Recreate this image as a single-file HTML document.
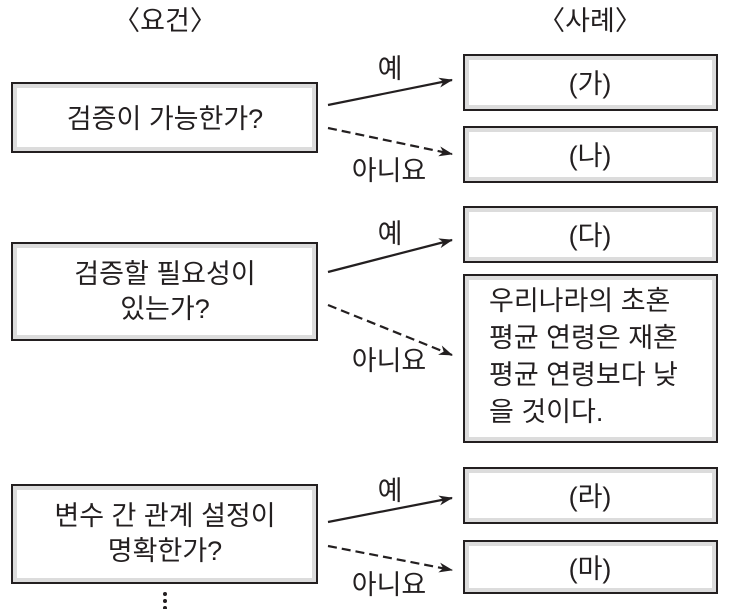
<!DOCTYPE html>
<html><head><meta charset="utf-8"><style>
html,body{margin:0;padding:0;background:#fff;}
svg{display:block;font-family:"Liberation Sans","Noto Sans CJK KR",sans-serif;}
text{fill:#231f20;font-size:27px;}
</style></head><body>
<svg width="732" height="609" viewBox="0 0 732 609" xmlns="http://www.w3.org/2000/svg">
<defs>
<marker id="ah" markerWidth="14" markerHeight="10" refX="13" refY="5" orient="auto" markerUnits="userSpaceOnUse">
<path d="M0,0 L14,5 L0,10 L4,5 Z" fill="#231f20"/></marker>
</defs>
<g fill="#fff" stroke="#231f20" stroke-width="2">
<rect x="12" y="83" width="305" height="69"/>
<rect x="12" y="243" width="305" height="97"/>
<rect x="12" y="485" width="305" height="98"/>
<rect x="464" y="55" width="253" height="55"/>
<rect x="464" y="127" width="253" height="55"/>
<rect x="464" y="207" width="253" height="55"/>
<rect x="464" y="275" width="253" height="167"/>
<rect x="464" y="468" width="253" height="55"/>
<rect x="464" y="541" width="253" height="52"/>
</g>
<g fill="none" stroke="#dcdcdc" stroke-width="4">
<rect x="15" y="86" width="299" height="63"/>
<rect x="15" y="246" width="299" height="91"/>
<rect x="15" y="488" width="299" height="92"/>
<rect x="467" y="58" width="247" height="49"/>
<rect x="467" y="130" width="247" height="49"/>
<rect x="467" y="210" width="247" height="49"/>
<rect x="467" y="278" width="247" height="161"/>
<rect x="467" y="471" width="247" height="49"/>
<rect x="467" y="544" width="247" height="46"/>
</g>
<g stroke="#231f20" stroke-width="2.2">
<line x1="328" y1="105" x2="452" y2="80" marker-end="url(#ah)"/>
<line x1="328" y1="128" x2="452" y2="154" stroke-dasharray="9,5" marker-end="url(#ah)"/>
<line x1="328" y1="272" x2="452" y2="240" marker-end="url(#ah)"/>
<line x1="328" y1="305" x2="452" y2="355" stroke-dasharray="9,5" marker-end="url(#ah)"/>
<line x1="328" y1="522" x2="452" y2="498" marker-end="url(#ah)"/>
<line x1="328" y1="546" x2="452" y2="570" stroke-dasharray="9,5" marker-end="url(#ah)"/>
</g>
<g fill="#231f20"><circle cx="165" cy="594" r="2"/><circle cx="165" cy="601" r="2"/><circle cx="165" cy="608" r="2"/></g>
<text x="165" y="30" text-anchor="middle">〈요건〉</text>
<text x="590" y="30" text-anchor="middle">〈사례〉</text>
<text x="165" y="128" text-anchor="middle">검증이 가능한가?</text>
<text x="165" y="283" text-anchor="middle">검증할 필요성이</text>
<text x="165" y="318" text-anchor="middle">있는가?</text>
<text x="165" y="525" text-anchor="middle">변수 간 관계 설정이</text>
<text x="165" y="560" text-anchor="middle">명확한가?</text>
<text x="390" y="78" text-anchor="middle">예</text>
<text x="390" y="243" text-anchor="middle">예</text>
<text x="390" y="500" text-anchor="middle">예</text>
<text x="389" y="180" text-anchor="middle">아니요</text>
<text x="389" y="370" text-anchor="middle">아니요</text>
<text x="389" y="594" text-anchor="middle">아니요</text>
<text x="590" y="93" text-anchor="middle">(가)</text>
<text x="590" y="165" text-anchor="middle">(나)</text>
<text x="590" y="245" text-anchor="middle">(다)</text>
<text x="590" y="506" text-anchor="middle">(라)</text>
<text x="590" y="578" text-anchor="middle">(마)</text>
<text x="489" y="310">우리나라의 초혼</text>
<text x="489" y="347">평균 연령은 재혼</text>
<text x="489" y="384">평균 연령보다 낮</text>
<text x="489" y="421">을 것이다.</text>
</svg>
</body></html>
